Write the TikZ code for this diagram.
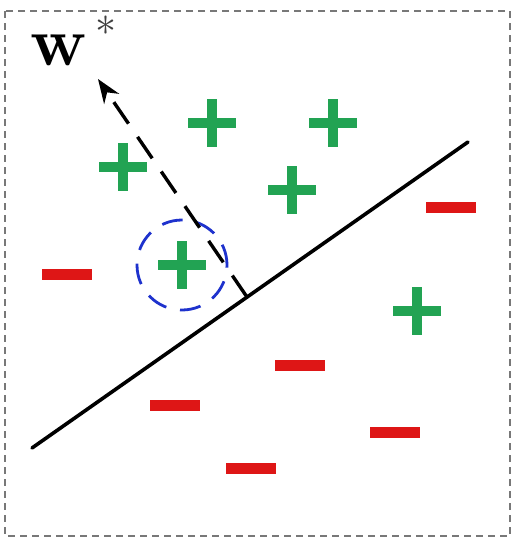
\documentclass[tikz,border=0pt]{standalone}
\usetikzlibrary{arrows.meta}
\definecolor{pgreen}{RGB}{34,163,83}
\definecolor{mred}{RGB}{222,22,22}
\definecolor{cblue}{RGB}{30,50,205}
\definecolor{fgray}{RGB}{120,120,120}
\tikzset{
  frame/.style={draw=fgray,line width=1.6pt,dash pattern=on 7pt off 5pt},
  sepline/.style={line width=3.6pt,line cap=round},
  warrow/.style={line width=3.4pt,dash pattern=on 26pt off 16pt,-{Stealth[length=24pt,width=18pt]}},
  circlemark/.style={circle,draw=cblue,line width=2.8pt,dash pattern=on 21pt off 14pt,minimum size=90pt,inner sep=0pt},
  plusline/.style={draw=pgreen,line width=10pt},
  minusline/.style={draw=mred,line width=11pt},
  plus/.pic={\draw[plusline] (-24,0)--(24,0) (0,-24)--(0,24);},
  minus/.pic={\draw[minusline] (-25,0)--(25,0);}
}
\begin{document}
\begin{tikzpicture}[x=1pt,y=-1pt]
\useasboundingbox (0,0) rectangle (512,539);
\draw[frame] (5,11) rectangle (510,536);
% separating line
\coordinate (la) at (32,448);
\coordinate (lb) at (468,142);
\draw[sepline] (la) -- (lb);
% circle around support vector
\node[circlemark] (c) at (182,265) {};
% weight vector
\coordinate (foot) at (247,297);
\coordinate (tip) at (98,79);
\draw[warrow] (foot) -- (tip);
\node[inner sep=0pt,anchor=base west] (w) at (30,65) {\fontsize{69}{69}\selectfont\bfseries w};
\node[inner sep=0pt,text=black!75] (star) at (106,26) {\scalebox{4.2}{$*$}};
% positives
\pic at (212,123) {plus};
\pic at (123,167) {plus};
\pic at (333,123) {plus};
\pic at (292,190) {plus};
\pic at (182,265) {plus};
\pic at (417,311) {plus};
% negatives
\pic at (67,274) {minus};
\pic at (451,207) {minus};
\pic at (300,365) {minus};
\pic at (175,405) {minus};
\pic at (395,432) {minus};
\pic at (251,468) {minus};
\end{tikzpicture}
\end{document}
